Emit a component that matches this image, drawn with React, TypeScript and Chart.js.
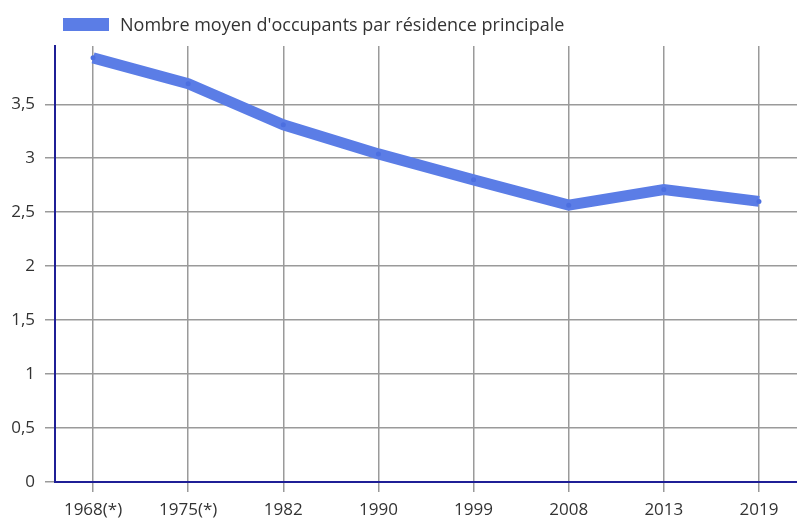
import React, { useEffect, useRef } from "react";
import { Chart, registerables } from "chart.js";

Chart.register(...registerables);

const years = ["1968(*)", "1975(*)", "1982", "1990", "1999", "2008", "2013", "2019"];
const occupants = [3.93, 3.69, 3.31, 3.04, 2.8, 2.565, 2.71, 2.6];
const yTicks = [0, 0.5, 1, 1.5, 2, 2.5, 3, 3.5];
const legendLabel = "Nombre moyen d'occupants par résidence principale";

const LINE = "#5b7de6";
const AXIS = "#1f1f96";
const GRID = "#9a9a9a";
const TEXT = "#333333";
const FONT = "'Open Sans', sans-serif";

export default function App() {
  const ref = useRef<HTMLCanvasElement | null>(null);

  useEffect(() => {
    document.body.style.margin = "0";
    const canvas = ref.current;
    if (!canvas) return;
    const chart = new Chart(canvas, {
      type: "line",
      data: {
        datasets: [
          {
            label: legendLabel,
            data: occupants.map((v, i) => ({ x: i, y: v })),
            borderColor: LINE,
            backgroundColor: LINE,
            borderWidth: 11,
            pointRadius: 2.5,
            pointBackgroundColor: "#4c6fe0",
            pointBorderWidth: 0,
            tension: 0,
          },
        ],
      },
      options: {
        animation: false,
        responsive: false,
        layout: { autoPadding: false, padding: { top: 46, right: 0, left: 0, bottom: 0 } },
        plugins: {
          legend: { display: false },
          tooltip: { enabled: false },
        },
        scales: {
          x: {
            type: "linear",
            min: -0.4,
            max: 7.4,
            afterBuildTicks: (s: any) => {
              s.ticks = years.map((_, i) => ({ value: i }));
            },
            afterFit: (s: any) => {
              s.height = 38;
              s.paddingLeft = 0;
              s.paddingRight = 0;
            },
            ticks: {
              callback: (v: any) => years[v as number] ?? "",
              color: TEXT,
              font: { family: FONT, size: 17 },
              padding: 8,
              maxRotation: 0,
              autoSkip: false,
            },
            grid: {
              color: GRID,
              lineWidth: 1.5,
              tickLength: 10,
              drawOnChartArea: true,
            },
            border: { color: AXIS, width: 2 },
          },
          y: {
            type: "linear",
            min: 0,
            max: 4.04,
            afterBuildTicks: (s: any) => {
              s.ticks = yTicks.map((v) => ({ value: v }));
            },
            afterFit: (s: any) => {
              s.width = 55;
              s.paddingTop = 0;
              s.paddingBottom = 0;
            },
            ticks: {
              callback: (v: any) => String(v).replace(".", ","),
              color: TEXT,
              font: { family: FONT, size: 17 },
              padding: 10,
            },
            grid: {
              color: GRID,
              lineWidth: 1.5,
              tickLength: 10,
            },
            border: { color: AXIS, width: 2 },
          },
        },
      },
    });
    return () => chart.destroy();
  }, []);

  return (
    <div style={{ position: "absolute", left: 0, top: 0, width: 797, height: 520 }}>
      <canvas ref={ref} width={797} height={520} style={{ display: "block" }} />
      <div
        style={{
          position: "absolute",
          left: 63,
          top: 12,
          height: 25,
          display: "flex",
          alignItems: "center",
          fontFamily: FONT,
          fontSize: 18,
          lineHeight: "25px",
          color: TEXT,
          whiteSpace: "nowrap",
        }}
      >
        <span
          style={{
            display: "inline-block",
            width: 46,
            height: 13,
            background: LINE,
            marginRight: 11,
          }}
        />
        <span>{legendLabel}</span>
      </div>
    </div>
  );
}
